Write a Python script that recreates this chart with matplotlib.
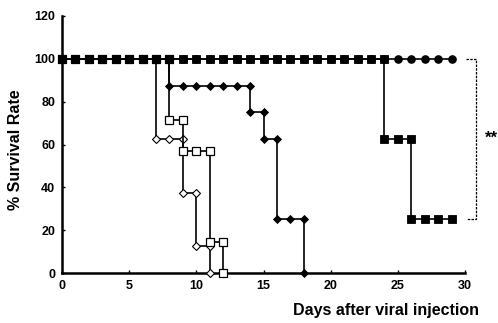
import matplotlib
matplotlib.use("Agg")
import matplotlib.pyplot as plt

plt.rcParams['font.family'] = ['Liberation Sans', 'DejaVu Sans']
plt.rcParams['font.weight'] = 'bold'

# ----------------- Data (step points, drop days listed twice) -----------------
circ_days = [0, 1, 2, 3, 4, 5, 6, 7, 8, 9, 10, 11, 12, 13, 14, 15, 16, 17, 18, 19,
             20, 21, 22, 23, 24, 25, 26, 27, 28, 29]
circ_surv = [100, 100, 100, 100, 100, 100, 100, 100, 100, 100, 100, 100, 100, 100, 100,
             100, 100, 100, 100, 100, 100, 100, 100, 100, 100, 100, 100, 100, 100, 100]

odia_days = [0, 1, 2, 3, 4, 5, 6, 7, 7, 8, 9, 9, 10, 10, 11, 11]
odia_surv = [100, 100, 100, 100, 100, 100, 100, 100, 62.5, 62.5, 62.5, 37.5, 37.5, 12.5, 12.5, 0]

osq_days = [0, 1, 2, 3, 4, 5, 6, 7, 8, 8, 9, 9, 10, 11, 11, 12, 12]
osq_surv = [100, 100, 100, 100, 100, 100, 100, 100, 100, 71.4, 71.4, 57.1, 57.1, 57.1,
            14.3, 14.3, 0]

fdia_days = [0, 1, 2, 3, 4, 5, 6, 7, 8, 8, 9, 10, 11, 12, 13, 14, 14, 15, 15, 16, 16,
             17, 18, 18]
fdia_surv = [100, 100, 100, 100, 100, 100, 100, 100, 100, 87.5, 87.5, 87.5, 87.5, 87.5,
             87.5, 87.5, 75, 75, 62.5, 62.5, 25, 25, 25, 0]

fsq_days = [0, 1, 2, 3, 4, 5, 6, 7, 8, 9, 10, 11, 12, 13, 14, 15, 16, 17, 18, 19, 20,
            21, 22, 23, 24, 24, 25, 26, 26, 27, 28, 29]
fsq_surv = [100, 100, 100, 100, 100, 100, 100, 100, 100, 100, 100, 100, 100, 100, 100,
            100, 100, 100, 100, 100, 100, 100, 100, 100, 100, 62.5, 62.5, 62.5, 25, 25,
            25, 25]

# ----------------- Plot -----------------
fig = plt.figure(figsize=(4.98, 3.23), dpi=100)
ax = fig.add_axes([62 / 498, 1 - 273 / 323, (465 - 62) / 498, (273 - 16) / 323])

lw = 1.2
ax.plot(circ_days, circ_surv, color='black', lw=lw, marker='o', ms=5.2,
        mfc='black', mec='black', clip_on=False, zorder=3)
ax.plot(odia_days, odia_surv, color='black', lw=lw, marker='D', ms=4.5,
        mfc='white', mec='black', mew=0.8, clip_on=False, zorder=4)
ax.plot(osq_days, osq_surv, color='black', lw=lw, marker='s', ms=5.2,
        mfc='white', mec='black', mew=0.9, clip_on=False, zorder=5)
ax.plot(fdia_days, fdia_surv, color='black', lw=lw, marker='D', ms=4.5,
        mfc='black', mec='black', mew=0.6, clip_on=False, zorder=6)
ax.plot(fsq_days, fsq_surv, color='black', lw=lw, marker='s', ms=5.7,
        mfc='black', mec='black', mew=0.6, clip_on=False, zorder=7)

ax.set_xlim(0, 30)
ax.set_ylim(0, 120)
ax.set_xticks([0, 5, 10, 15, 20, 25, 30])
ax.set_yticks([0, 20, 40, 60, 80, 100, 120])
ax.tick_params(direction='in', length=2.5, width=1, labelsize=9, pad=5)
for s in ['top', 'right']:
    ax.spines[s].set_visible(False)
for s in ['left', 'bottom']:
    ax.spines[s].set_linewidth(1.8)

fig.text(15 / 498, 1 - 150 / 323, '% Survival Rate', fontsize=11.5,
         fontweight='bold', ha='center', va='center', rotation=90)
fig.text(386 / 498, 1 - 311 / 323, 'Days after viral injection', fontsize=11.5,
         fontweight='bold', ha='center', va='center')

# significance bracket
ax.plot([30.1, 30.8, 30.8, 30.1], [100, 100, 25, 25], color='black', lw=0.9,
        ls=(0, (2, 1)), clip_on=False)
fig.text(485 / 498, 1 - 138 / 323, '**', fontsize=12, fontweight='bold',
         ha='left', va='center')

fig.savefig('out.png', dpi=100)
